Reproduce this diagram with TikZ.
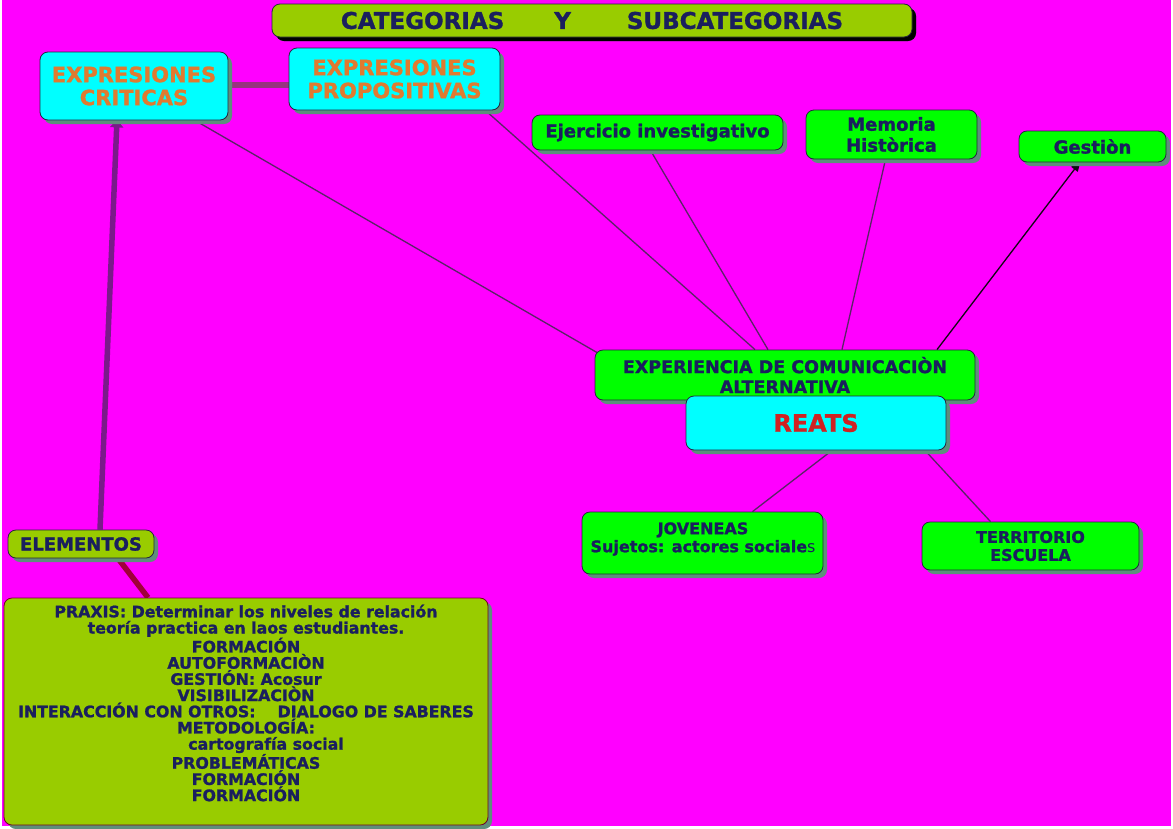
\documentclass[tikz,border=0pt]{standalone}
\usepackage{fontspec}
\setmainfont{DejaVu Sans}[BoldFeatures={FakeBold=1.3}]
\usetikzlibrary{shadows,arrows.meta,calc}

\definecolor{bgmag}{HTML}{FF00FF}
\definecolor{olivebox}{HTML}{99CC00}
\definecolor{aquabox}{HTML}{00FFFF}
\definecolor{limebox}{HTML}{00FF00}
\definecolor{navytxt}{HTML}{1A1F5E}
\definecolor{orangetxt}{HTML}{E07A30}
\definecolor{redtxt}{HTML}{D02222}
\definecolor{shadecol}{HTML}{5E8E7C}
\definecolor{edgecol}{HTML}{26263E}
\definecolor{thinlink}{HTML}{5A2466}
\definecolor{thicklink}{HTML}{993380}
\definecolor{purplearrow}{HTML}{7A1A8A}
\definecolor{redlink}{HTML}{A0003A}

\newcommand{\setfs}[2]{\fontsize{#1}{#2}\selectfont\bfseries}

\pgfdeclarelayer{pagelayer}
\pgfdeclarelayer{linklayer}
\pgfsetlayers{pagelayer,linklayer,main}

\tikzset{
  box/.style={draw=edgecol, line width=0.8pt, rounded corners=8pt,
    inner sep=0pt, align=center, text=navytxt,
    drop shadow={shadow xshift=4pt, shadow yshift=-4pt, fill=shadecol, opacity=1}},
  olivefill/.style={box, fill=olivebox},
  aquafill/.style={box, fill=aquabox, text=orangetxt},
  limefill/.style={box, fill=limebox},
  plaintext/.style={inner sep=0pt, align=center, text=navytxt},
  link/.style={draw=thinlink, line width=1.3pt},
  heavylink/.style={line width=5.5pt},
}

\begin{document}
\begin{tikzpicture}[x=1pt, y=-1pt]
  % page and background
  \begin{pgfonlayer}{pagelayer}
    \fill[white] (0,0) rectangle (1173,828);
    \fill[bgmag] (2,0) rectangle (1171,826);
  \end{pgfonlayer}
  \useasboundingbox (0,0) rectangle (1173,828);

  % title
  \node[olivefill, minimum width=640pt, minimum height=33pt, font=\setfs{23}{26},
        drop shadow={shadow xshift=4pt, shadow yshift=-4pt, fill=black, opacity=1}]
    (title) at (592,20.5)
    {CATEGORIAS\hspace{50pt}Y\hspace{56pt}SUBCATEGORIAS};

  % upper row
  \node[aquafill, minimum width=188pt, minimum height=68pt, font=\setfs{21}{23}] (crit) at (134,86)
    {EXPRESIONES\\CRITICAS};
  \node[aquafill, minimum width=211pt, minimum height=62pt, font=\setfs{21}{23}] (prop) at (394.5,79)
    {EXPRESIONES\\PROPOSITIVAS};

  \node[limefill, minimum width=251pt, minimum height=35pt, font=\setfs{18}{20}] (ejer) at (657.5,132.5)
    {Ejercicio investigativo};
  \node[limefill, minimum width=171pt, minimum height=49pt, font=\setfs{18}{21}] (mem) at (891.5,134.5)
    {Memoria\\Històrica};
  \node[limefill, minimum width=147pt, minimum height=31pt, font=\setfs{18}{20}] (gest) at (1092.5,146.5)
    {Gestiòn};

  % central pair
  \node[limefill, minimum width=380pt, minimum height=50pt] (exp) at (785,375) {};
  \node[plaintext, font=\setfs{17.5}{20}] (exptext) at (785,375)
    {EXPERIENCIA DE COMUNICACIÒN\\ALTERNATIVA};
  \node[aquafill, minimum width=260pt, minimum height=54pt, text=redtxt, font=\setfs{24}{26}] (reats) at (816,423)
    {REATS};

  % lower right
  \node[limefill, minimum width=241pt, minimum height=62pt] (jov) at (702.5,543) {};
  \node[plaintext, font=\setfs{16}{18}] (jovtext) at (703,539)
    {JOVENEAS\\Sujetos: actores sociale{\mdseries s}};
  \node[limefill, minimum width=217pt, minimum height=48pt, font=\setfs{16}{18}] (terr) at (1030.5,546)
    {TERRITORIO\\ESCUELA};

  % lower left
  \node[olivefill, minimum width=146pt, minimum height=28pt, font=\setfs{18}{20}] (elem) at (81,544)
    {ELEMENTOS};
  \node[olivefill, draw=redlink!70!black, minimum width=484pt, minimum height=227pt] (praxis) at (246,711.5) {};
  \node[plaintext, font=\setfs{15.8}{16.2}] (praxistext) at (246,703)
    {PRAXIS: Determinar los niveles de relación\\
     teoría practica en laos estudiantes.\\
     FORMACIÓN\\
     AUTOFORMACIÒN\\
     GESTIÓN: Acosur\\
     VISIBILIZACIÒN\\
     INTERACCIÓN CON OTROS:\hspace{22pt}DIALOGO DE SABERES\\
     METODOLOGÍA:\\
     \hspace{40pt}cartografía social\\
     PROBLEMÁTICAS\\
     FORMACIÓN\\
     FORMACIÓN};

  % connectors, behind the boxes
  \begin{pgfonlayer}{linklayer}
    \draw[link] ($(crit.south)+(61,0)$) -- ($(exp.north west)+(6,5)$);
    \draw[link] ($(prop.south east)+(-15,0)$) -- ($(exp.north)+(-30,0)$);
    \draw[link] ($(ejer.south)+(-7,0)$) -- ($(exp.north)+(-17,0)$);
    \draw[link] ($(mem.south)+(-6,0)$) -- ($(exp.north)+(57,0)$);
    \draw[link, draw=black!80!thinlink, -{Triangle[length=10pt,width=8pt]}]
      ($(exp.north)+(152,0)$) -- ($(gest.south)+(-12,-1)$);
    \draw[link] ($(reats.south)+(16,0)$) -- ($(jov.north)+(50,0)$);
    \draw[link] ($(reats.south)+(109,0)$) -- ($(terr.north)+(-40,0)$);
    \draw[heavylink, draw=thicklink] ($(crit.east)+(-2,-1)$) -- ($(prop.west)+(2,6)$);
    \draw[heavylink, draw=purplearrow, -{Triangle[length=8pt,width=13pt]}]
      ($(elem.north)+(19,0)$) -- ($(crit.south)+(-17,-1)$);
    \draw[heavylink, draw=redlink] ($(elem.south)+(37,0)$) -- ($(praxis.north)+(-98,0)$);
  \end{pgfonlayer}
\end{tikzpicture}
\end{document}
